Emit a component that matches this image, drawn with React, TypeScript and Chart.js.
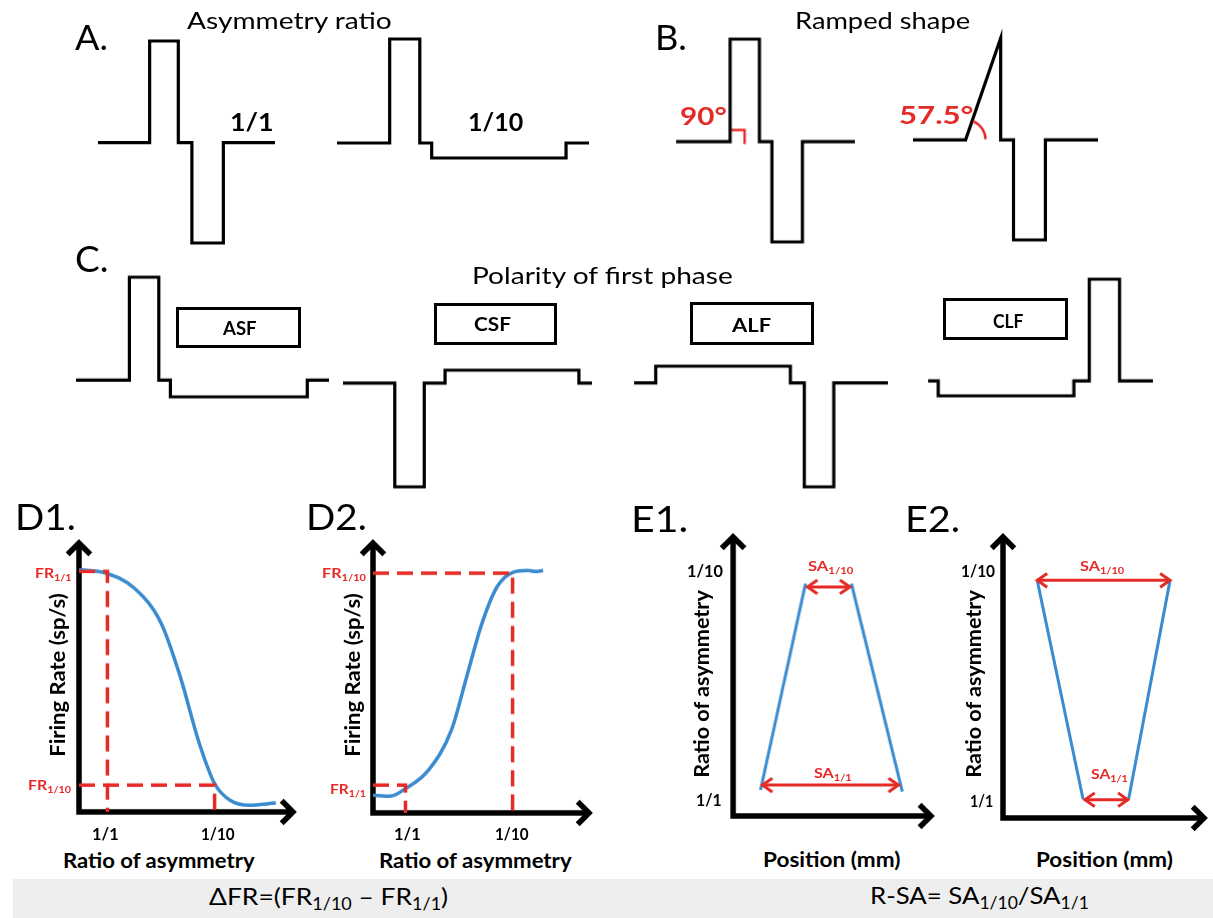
import React, { useEffect, useLayoutEffect, useRef } from "react";
import { Chart, registerables } from "chart.js";
Chart.register(...registerables);

// ---------------- DATA ----------------
// Biphasic pulse waveforms as segments: [duration, level] or [duration, startLevel, endLevel]
// time and amplitude in arbitrary units
const A_RATIO_1_1 = [[51.7, 0], [28.7, 102], [13.6, 0], [31.5, -100.6], [51.7, 0]];
const A_RATIO_1_10 = [[52.8, 0], [30.2, 104], [11.9, 0], [134.7, -15], [23, 0]];
const B_SQUARE = [[54, 0], [29.3, 102.4], [12.5, 0], [30.5, -100], [52.5, 0]];
const B_RAMPED = [[52.8, 0], [35.2, 0, 101.7], [12.9, 0], [32, -100], [52.8, 0]];
const C_ASF = [[53.4, 0], [29.4, 102.7], [11.6, 0], [136.9, -16.7], [21.7, 0]];
const C_CSF = [[51.8, 0], [29.5, -103.7], [20.8, 0], [133.9, 13], [13.1, 0]];
const C_ALF = [[21.6, 0], [134.6, 16.6], [13.9, 0], [29.5, -103.7], [54.1, 0]];
const C_CLF = [[10.1, 0], [135.4, -15], [15.4, 0], [30.2, 101.7], [33.3, 0]];
const C_LABELS = ["ASF", "CSF", "ALF", "CLF"];

// Angle markers (panel B)
const B_RIGHT_ANGLE_X = [54, 68.5, 68.5];
const B_RIGHT_ANGLE_Y = [11.7, 11.7, -2.3];
const B_RAMP_ANGLE_LABELS = ["90°", "57.5°"];

// D1: firing rate vs ratio of asymmetry (a.u.)
const D1_X = [0, 26.8, 55.5, 82.3, 101.4, 120.5, 135.8, 151.2, 170.3, 197.1];
const D1_Y = [241.7, 238.3, 223.3, 188.3, 135, 68.3, 28.3, 11.7, 6.7, 9];
const D1_TICKS_X = [28.5, 135.8]; // 1/1, 1/10
const D1_FR = [240, 26.7]; // FR1/1, FR1/10
const D1_AXIS_X = [0, 0, 214.3];
const D1_AXIS_Y = [268.3, 0, 0];

// D2
const D2_X = [0, 17.2, 32.5, 55.5, 78.5, 93.8, 109.1, 124.4, 139.7, 155, 162.7, 170.3];
const D2_Y = [17.7, 16.7, 24.3, 42.7, 82.7, 136, 189.3, 226, 240, 242, 241, 242];
const D2_TICKS_X = [32.5, 139.7];
const D2_FR = [27.7, 239.3]; // FR1/1, FR1/10
const D2_AXIS_X = [0, 0, 216.2];
const D2_AXIS_Y = [269.3, 0, 0];

// E1: position spread vs ratio of asymmetry
const E1_LEFT_X = [27.4, 72.3];
const E1_LEFT_Y = [26, 232.7];
const E1_RIGHT_X = [118.1, 168.9];
const E1_RIGHT_Y = [232.7, 24.3];
const E1_SA_1_10 = [74.3, 116.5, 229.3]; // x0, x1, level
const E1_SA_1_1 = [29.3, 165, 31];
const E1_AXIS_X = [0, 0, 197.5];
const E1_AXIS_Y = [279.3, 0, 0];

// E2
const E2_LEFT_X = [34.4, 80.2];
const E2_LEFT_Y = [237.7, 19];
const E2_RIGHT_X = [167.3, 125.9];
const E2_RIGHT_Y = [237.7, 19];
const E2_SA_1_10 = [34.4, 167.3, 238.3];
const E2_SA_1_1 = [82.1, 125.1, 18.3];
const E2_AXIS_X = [0, 0, 201.4];
const E2_AXIS_Y = [281.7, 0, 0];

const TICK_LABELS = ["1/1", "1/10"];

// ---------------- STYLE ----------------
const FONT = "Lato, 'Open Sans', 'DejaVu Sans', sans-serif";
const BLACK = "#000000";
const RED = "#e62a26";
const BLUE = "#3b8bd0";
const PAD = 24;

type Series = {
  x: number[];
  y: number[];
  color: string;
  width: number;
  dash?: number[];
  smooth?: boolean;
  arrows?: "end" | "both";
  head?: number;
  spread?: number;
};
type Arc = { x: number; y: number; r: number; from: number; to: number; color: string; width: number };

function pulsePath(segs: number[][]) {
  const x: number[] = [];
  const y: number[] = [];
  let t = 0;
  segs.forEach((s) => {
    const a = s[1];
    const b = s.length > 2 ? s[2] : s[1];
    x.push(t);
    y.push(a);
    t += s[0];
    x.push(t);
    y.push(b);
  });
  return { x, y };
}

function Plot({ ox, oy, series, arcs = [] }: { ox: number; oy: number; series: Series[]; arcs?: Arc[] }) {
  const ref = useRef<HTMLCanvasElement>(null);
  const allX = series.flatMap((s) => s.x);
  const allY = series.flatMap((s) => s.y);
  const x0 = Math.min(...allX), x1 = Math.max(...allX);
  const y0 = Math.min(...allY), y1 = Math.max(...allY);
  const w = x1 - x0 + 2 * PAD;
  const h = y1 - y0 + 2 * PAD;
  useEffect(() => {
    const deco = {
      id: "deco",
      afterDatasetsDraw(chart: any) {
        const ctx = chart.ctx;
        chart.data.datasets.forEach((ds: any, i: number) => {
          if (!ds.arrows) return;
          const pts = chart.getDatasetMeta(i).data;
          const n = pts.length;
          const draw = (tip: any, prev: any) => {
            const a = Math.atan2(tip.y - prev.y, tip.x - prev.x);
            const L = ds.head, s = (ds.spread * Math.PI) / 180;
            ctx.save();
            ctx.strokeStyle = ds.borderColor;
            ctx.lineWidth = ds.borderWidth;
            ctx.lineJoin = "miter";
            ctx.lineCap = "butt";
            ctx.setLineDash([]);
            ctx.beginPath();
            ctx.moveTo(tip.x - L * Math.cos(a - s), tip.y - L * Math.sin(a - s));
            ctx.lineTo(tip.x, tip.y);
            ctx.lineTo(tip.x - L * Math.cos(a + s), tip.y - L * Math.sin(a + s));
            ctx.stroke();
            ctx.restore();
          };
          draw(pts[n - 1], pts[n - 2]);
          if (ds.arrows === "both") draw(pts[0], pts[1]);
        });
        arcs.forEach((a) => {
          const cx = chart.scales.x.getPixelForValue(a.x);
          const cy = chart.scales.y.getPixelForValue(a.y);
          ctx.save();
          ctx.strokeStyle = a.color;
          ctx.lineWidth = a.width;
          ctx.beginPath();
          ctx.arc(cx, cy, a.r, (-a.to * Math.PI) / 180, (-a.from * Math.PI) / 180);
          ctx.stroke();
          ctx.restore();
        });
      },
    };
    const chart = new Chart(ref.current!, {
      type: "line",
      data: {
        datasets: series.map((s) => ({
          data: s.x.map((v, i) => ({ x: v, y: s.y[i] })),
          borderColor: s.color,
          borderWidth: s.width,
          borderDash: s.dash || [],
          pointRadius: 0,
          tension: s.smooth ? 0.4 : 0,
          cubicInterpolationMode: s.smooth ? "monotone" : "default",
          fill: false,
          clip: false,
          borderCapStyle: "butt",
          borderJoinStyle: "miter",
          arrows: s.arrows,
          head: s.head,
          spread: s.spread,
        })) as any,
      },
      options: {
        animation: false,
        responsive: false,
        devicePixelRatio: 1,
        events: [],
        layout: { padding: PAD },
        plugins: { legend: { display: false }, tooltip: { enabled: false } },
        scales: {
          x: { type: "linear", min: x0, max: x1, display: false },
          y: { type: "linear", min: y0, max: y1, display: false },
        },
      },
      plugins: [deco],
    });
    return () => chart.destroy();
  }, []);
  return (
    <canvas
      ref={ref}
      width={w}
      height={h}
      style={{ position: "absolute", left: ox + x0 - PAD, top: oy - y1 - PAD, width: w, height: h }}
    />
  );
}

function Txt({
  x, y, w, size, weight = 400, color = BLACK, align = "left", rotate = false, children,
}: {
  x: number; y: number; w?: number; size: number; weight?: number; color?: string;
  align?: "left" | "center"; rotate?: boolean; children: React.ReactNode;
}) {
  const ref = useRef<HTMLDivElement>(null);
  const mark = useRef<HTMLSpanElement>(null);
  useLayoutEffect(() => {
    const el = ref.current!;
    el.style.transform = "none";
    const natW = el.offsetWidth;
    const natH = el.offsetHeight;
    const sx = w ? w / natW : 1;
    if (rotate) {
      el.style.left = x - natW / 2 + "px";
      el.style.top = y - natH / 2 + "px";
      el.style.transformOrigin = "50% 50%";
      el.style.transform = `rotate(-90deg) scaleX(${sx})`;
    } else {
      const base = mark.current!.offsetTop;
      const left = align === "center" ? x - (natW * sx) / 2 : x;
      el.style.left = left + "px";
      el.style.top = y - base + "px";
      el.style.transformOrigin = "0 0";
      el.style.transform = `scaleX(${sx})`;
    }
  }, []);
  return (
    <div
      ref={ref}
      style={{
        position: "absolute", left: 0, top: 0, whiteSpace: "nowrap", fontFamily: FONT,
        fontSize: size, fontWeight: weight, color, lineHeight: 1.2,
      }}
    >
      {children}
      <span ref={mark} style={{ display: "inline-block", width: 0, height: 0, verticalAlign: "baseline" }} />
    </div>
  );
}

const Sub = ({ children }: { children: React.ReactNode }) => (
  <span style={{ fontSize: "0.68em", verticalAlign: "-0.32em" }}>{children}</span>
);

function wave(segs: number[][]): Series {
  const p = pulsePath(segs);
  return { x: p.x, y: p.y, color: BLACK, width: 3.2 };
}
function axes(x: number[], y: number[]): Series {
  return { x, y, color: BLACK, width: 5.5, arrows: "both", head: 16, spread: 45 };
}
function dashedL(x: number, fr: number): Series {
  return { x: [0, x, x], y: [fr, fr, 0], color: RED, width: 3.5, dash: [16, 8] };
}
function dblArrow(a: number[]): Series {
  return { x: [a[0], a[1]], y: [a[2], a[2]], color: RED, width: 3, arrows: "both", head: 12, spread: 35 };
}
function blue(x: number[], y: number[]): Series {
  return { x, y, color: BLUE, width: 3 };
}

export default function App() {
  useLayoutEffect(() => {
    document.body.style.margin = "0";
    document.body.style.background = "#ffffff";
  }, []);
  const boxes = [
    { l: 177, t: 308, w: 122, h: 38, cx: 240, by: 335, tw: 34 },
    { l: 435, t: 304, w: 120, h: 39, cx: 492, by: 331, tw: 37 },
    { l: 691, t: 303, w: 121, h: 40, cx: 751.6, by: 332, tw: 39 },
    { l: 944, t: 299, w: 122, h: 39, cx: 1007.6, by: 328, tw: 30 },
  ];
  return (
    <div style={{ position: "relative", width: 1213, height: 918, background: "#fff", overflow: "hidden" }}>
      {/* bottom band */}
      <div style={{ position: "absolute", left: 13, top: 879, width: 1200, height: 39, background: "#eeeeee" }} />

      {/* A */}
      <Plot ox={97.6} oy={142.7} series={[wave(A_RATIO_1_1)]} />
      <Plot ox={336.8} oy={142.7} series={[wave(A_RATIO_1_10)]} />
      {/* B */}
      <Plot
        ox={676.2}
        oy={141.7}
        series={[wave(B_SQUARE), { x: B_RIGHT_ANGLE_X, y: B_RIGHT_ANGLE_Y, color: RED, width: 2.5 }]}
      />
      <Plot
        ox={912.8}
        oy={140}
        series={[wave(B_RAMPED)]}
        arcs={[{ x: B_RAMPED[0][0], y: 0, r: 20, from: 2, to: 68, color: RED, width: 2.5 }]}
      />
      {/* C */}
      <Plot ox={75.8} oy={380} series={[wave(C_ASF)]} />
      <Plot ox={342.7} oy={383} series={[wave(C_CSF)]} />
      <Plot ox={634.4} oy={383} series={[wave(C_ALF)]} />
      <Plot ox={928.3} oy={381} series={[wave(C_CLF)]} />
      {boxes.map((b, i) => (
        <div
          key={"box" + i}
          style={{
            position: "absolute", left: b.l - 1.5, top: b.t - 1.5, width: b.w + 3, height: b.h + 3,
            border: "3px solid #000", boxSizing: "border-box",
          }}
        />
      ))}
      {boxes.map((b, i) => (
        <Txt key={"bt" + i} x={b.cx} y={b.by} w={b.tw} size={18} weight={700} align="center">
          {C_LABELS[i]}
        </Txt>
      ))}

      {/* D1 */}
      <Plot
        ox={78.5}
        oy={811.7}
        series={[
          dashedL(D1_TICKS_X[0], D1_FR[0]),
          dashedL(D1_TICKS_X[1], D1_FR[1]),
          { x: D1_X, y: D1_Y, color: BLUE, width: 3.5, smooth: true },
          axes(D1_AXIS_X, D1_AXIS_Y),
        ]}
      />
      {/* D2 */}
      <Plot
        ox={373}
        oy={812.7}
        series={[
          dashedL(D2_TICKS_X[0], D2_FR[0]),
          dashedL(D2_TICKS_X[1], D2_FR[1]),
          { x: D2_X, y: D2_Y, color: BLUE, width: 3.5, smooth: true },
          axes(D2_AXIS_X, D2_AXIS_Y),
        ]}
      />
      {/* E1 */}
      <Plot
        ox={733}
        oy={816}
        series={[
          blue(E1_LEFT_X, E1_LEFT_Y),
          blue(E1_RIGHT_X, E1_RIGHT_Y),
          dblArrow(E1_SA_1_10),
          dblArrow(E1_SA_1_1),
          axes(E1_AXIS_X, E1_AXIS_Y),
        ]}
      />
      {/* E2 */}
      <Plot
        ox={1002.7}
        oy={818.3}
        series={[
          blue(E2_LEFT_X, E2_LEFT_Y),
          blue(E2_RIGHT_X, E2_RIGHT_Y),
          dblArrow(E2_SA_1_10),
          dblArrow(E2_SA_1_1),
          axes(E2_AXIS_X, E2_AXIS_Y),
        ]}
      />

      {/* panel letters */}
      <Txt x={75} y={50} w={33} size={35}>A.</Txt>
      <Txt x={655} y={50} w={32} size={35}>B.</Txt>
      <Txt x={75} y={272} w={33} size={37}>C.</Txt>
      <Txt x={15} y={530} w={61} size={36}>D1.</Txt>
      <Txt x={306} y={530} w={61} size={36}>D2.</Txt>
      <Txt x={631} y={532} w={57} size={36}>E1.</Txt>
      <Txt x={905} y={532} w={55} size={36}>E2.</Txt>

      {/* titles */}
      <Txt x={187} y={29} w={205} size={24}>Asymmetry ratio</Txt>
      <Txt x={795} y={29} w={175} size={24}>Ramped shape</Txt>
      <Txt x={472} y={284} w={261} size={24}>Polarity of first phase</Txt>

      {/* A labels */}
      <Txt x={230} y={131} w={44} size={25} weight={700}>{TICK_LABELS[0]}</Txt>
      <Txt x={468} y={131} w={55} size={25} weight={700}>{TICK_LABELS[1]}</Txt>
      {/* B labels */}
      <Txt x={680} y={125} w={47} size={24} weight={700} color={RED}>{B_RAMP_ANGLE_LABELS[0]}</Txt>
      <Txt x={899} y={124} w={74} size={24} weight={700} color={RED}>{B_RAMP_ANGLE_LABELS[1]}</Txt>

      {/* D1 labels */}
      <Txt x={57.4} y={675} w={164} size={20} weight={700} rotate>Firing Rate (sp/s)</Txt>
      <Txt x={63} y={868} w={192} size={20} weight={700}>Ratio of asymmetry</Txt>
      <Txt x={105.5} y={840} w={27} size={17} weight={700} align="center">{TICK_LABELS[0]}</Txt>
      <Txt x={217.5} y={840} w={34} size={17} weight={700} align="center">{TICK_LABELS[1]}</Txt>
      <Txt x={35} y={578} w={36} size={14} weight={700} color={RED}>FR<Sub>1/1</Sub></Txt>
      <Txt x={27.6} y={790} w={43} size={14} weight={700} color={RED}>FR<Sub>1/10</Sub></Txt>

      {/* D2 labels */}
      <Txt x={352} y={675} w={164} size={20} weight={700} rotate>Firing Rate (sp/s)</Txt>
      <Txt x={379} y={868} w={193} size={20} weight={700}>Ratio of asymmetry</Txt>
      <Txt x={407.6} y={840} w={27} size={17} weight={700} align="center">{TICK_LABELS[0]}</Txt>
      <Txt x={512} y={840} w={34} size={17} weight={700} align="center">{TICK_LABELS[1]}</Txt>
      <Txt x={321.5} y={578} w={44} size={14} weight={700} color={RED}>FR<Sub>1/10</Sub></Txt>
      <Txt x={330} y={794} w={35.5} size={14} weight={700} color={RED}>FR<Sub>1/1</Sub></Txt>

      {/* E1 labels */}
      <Txt x={700.9} y={684} w={188} size={20} weight={700} rotate>Ratio of asymmetry</Txt>
      <Txt x={763.4} y={867} w={137.6} size={20} weight={700}>Position (mm)</Txt>
      <Txt x={686.8} y={577} w={36.4} size={17} weight={700}>{TICK_LABELS[1]}</Txt>
      <Txt x={695.8} y={806} w={26} size={17} weight={700}>{TICK_LABELS[0]}</Txt>
      <Txt x={808} y={571} w={45} size={14} weight={700} color={RED}>SA<Sub>1/10</Sub></Txt>
      <Txt x={814} y={778} w={38} size={14} weight={700} color={RED}>SA<Sub>1/1</Sub></Txt>

      {/* E2 labels */}
      <Txt x={973.4} y={684} w={188} size={20} weight={700} rotate>Ratio of asymmetry</Txt>
      <Txt x={1036} y={867} w={137} size={20} weight={700}>Position (mm)</Txt>
      <Txt x={960.5} y={577} w={34.5} size={17} weight={700}>{TICK_LABELS[1]}</Txt>
      <Txt x={969.5} y={807} w={23.5} size={17} weight={700}>{TICK_LABELS[0]}</Txt>
      <Txt x={1080} y={571} w={44} size={14} weight={700} color={RED}>SA<Sub>1/10</Sub></Txt>
      <Txt x={1090.7} y={779} w={37} size={14} weight={700} color={RED}>SA<Sub>1/1</Sub></Txt>

      {/* formulas */}
      <Txt x={209} y={905} w={239} size={24}>ΔFR=(FR<Sub>1/10</Sub> – FR<Sub>1/1</Sub>)</Txt>
      <Txt x={870} y={904} w={219} size={24}>R-SA= SA<Sub>1/10</Sub>/SA<Sub>1/1</Sub></Txt>
    </div>
  );
}
